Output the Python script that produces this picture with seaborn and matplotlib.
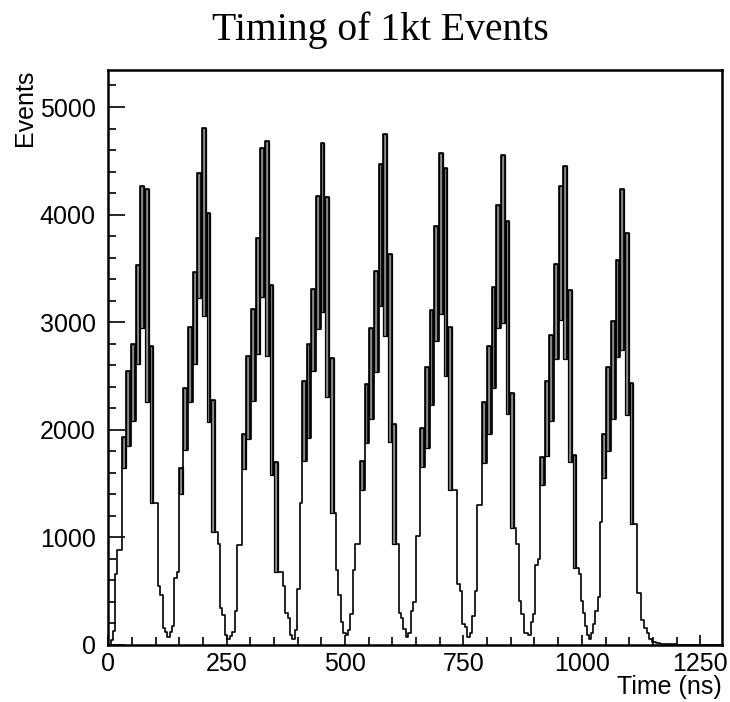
import numpy as np
import pandas as pd
import matplotlib
matplotlib.use("Agg")
import matplotlib.pyplot as plt
from matplotlib.ticker import MultipleLocator
import seaborn as sns

# ---------------- data ----------------
title = "Timing of 1kt Events"
x_label = "Time (ns)"
y_label = "Events"
x_ticks = [0, 250, 500, 750, 1000, 1250]
y_ticks = [0, 1000, 2000, 3000, 4000, 5000]

# start time (ns) of the first bucket of every bunch
bunch_start = [28.5, 149, 282, 409, 531.5, 659, 790, 912, 1042]
bucket_pitch = 9.8   # ns
bucket_width = 8.0   # ns

# upper / lower count of every bucket within each bunch
bar_top = [
    [1932, 2544, 2801, 3530, 4263, 4242, 2783],
    [1648, 2391, 2954, 3470, 4384, 4804, 4014, 2278],
    [1957, 2687, 3121, 3779, 4616, 4687, 3345, 1698],
    [2456, 2801, 3310, 4171, 4662, 4164, 2669],
    [1708, 2427, 2943, 3477, 4466, 4751, 3637, 2053],
    [2018, 2580, 3114, 3890, 4573, 4431, 2954],
    [2260, 2776, 3327, 4093, 4555, 3940, 2338],
    [1744, 2456, 2883, 3541, 4270, 4448, 3299, 1762],
    [1957, 2580, 3014, 3577, 4235, 3826, 2438],
]
bar_bottom = [
    [1648, 1851, 2082, 2616, 2947, 2260, 1317],
    [1406, 1815, 2260, 2616, 3221, 3060, 2071, 1050],
    [1637, 1915, 2267, 2705, 3238, 2687, 1584, 676],
    [1708, 1922, 2544, 2936, 3096, 2302, 1228],
    [1441, 1875, 2100, 2537, 3149, 2872, 1886, 936],
    [1655, 1833, 2235, 2829, 3078, 2502, 1441],
    [1690, 1957, 2384, 2943, 2990, 2146, 1085],
    [1484, 1754, 2082, 2658, 3025, 2658, 1698, 712],
    [1555, 1804, 2100, 2680, 2740, 2135, 1121],
]

# counts before the first bunch
lead_in = [0, 50, 130, 660, 880, 880]
# counts in the gaps between bunches
valleys = [
    [1317, 1317, 552, 463, 160, 125, 71, 125, 178, 623, 683],
    [1050, 940, 340, 280, 90, 60, 80, 125, 320, 930, 930],
    [676, 676, 552, 302, 249, 89, 53, 142, 516, 1317],
    [1228, 694, 463, 214, 107, 89, 140, 285, 694, 940, 940],
    [936, 302, 249, 150, 71, 107, 320, 402, 1014, 1014],
    [1441, 1441, 569, 498, 196, 167, 71, 107, 267, 498, 1299, 1299],
    [1085, 943, 409, 285, 107, 107, 89, 214, 285, 747, 800],
    [712, 658, 409, 302, 178, 89, 60, 107, 196, 320, 445, 1139],
]
# tail after the last bunch
tail_edges = [1116, 1126, 1131, 1137, 1142, 1148, 1156, 1165, 1180, 1200, 1230, 1300]
tail_values = [1121, 480, 231, 160, 107, 53, 30, 18, 10, 5, 2, 0]

# ---------------- build segments (x0, x1, top, bottom) ----------------
segs = []
def add_steps(x0, x1, vals):
    n = len(vals)
    e = np.linspace(x0, x1, n + 1)
    for i, v in enumerate(vals):
        segs.append((e[i], e[i + 1], v, v))

add_steps(0, bunch_start[0], lead_in)
bars = []
for k, t0 in enumerate(bunch_start):
    for j, (hi, lo) in enumerate(zip(bar_top[k], bar_bottom[k])):
        a = t0 + j * bucket_pitch
        segs.append((a, a + bucket_width, hi, lo))
        bars.append((a, hi, lo))
    end = t0 + (len(bar_top[k]) - 1) * bucket_pitch + bucket_width
    if k < len(valleys):
        add_steps(end, bunch_start[k + 1], valleys[k])
    else:
        prev = end
        for e, v in zip(tail_edges, tail_values):
            segs.append((prev, e, v, v))
            prev = e

xs, ys = [0.0], [0.0]
level = 0.0
for x0, x1, hi, lo in segs:
    xs += [x0, x0, x1, x1]
    ys += [level, hi, hi, lo]
    level = lo
outline = pd.DataFrame({"time": xs, "events": ys})
bars_df = pd.DataFrame(bars, columns=["start", "top", "bottom"])

# ---------------- plot ----------------
sns.set_style("ticks")
plt.rcParams["font.family"] = ["Liberation Sans", "DejaVu Sans"]
plt.rcParams["text.color"] = "black"
plt.rcParams["xtick.color"] = "black"
plt.rcParams["ytick.color"] = "black"

fig = plt.figure(figsize=(7.30, 7.02), dpi=100)
ax = fig.add_axes([108.3 / 730, 57 / 702, (722 - 108.3) / 730, (645 - 70) / 702])

ax.bar(bars_df["start"], bars_df["top"] - bars_df["bottom"], bottom=bars_df["bottom"],
       width=bucket_width, align="edge", color="#8a8a8a", edgecolor="black",
       linewidth=0.9, zorder=2)
sns.lineplot(data=outline, x="time", y="events", sort=False, estimator=None,
             color="black", linewidth=1.2, ax=ax, zorder=3)

ax.set_xlim(0, 1296)
ax.set_ylim(0, 5344)
ax.set_xticks(x_ticks)
ax.set_yticks(y_ticks)
ax.xaxis.set_minor_locator(MultipleLocator(50))
ax.yaxis.set_minor_locator(MultipleLocator(200))
ax.tick_params(axis="y", which="major", direction="in", length=12, width=1.2,
               labelsize=18, pad=9)
ax.tick_params(axis="y", which="minor", direction="in", length=6, width=1.2)
ax.tick_params(axis="x", which="major", direction="in", length=7, width=1.2,
               labelsize=18, pad=5)
ax.tick_params(axis="x", which="minor", direction="in", length=6, width=1.2)
ax.set_xlabel("")
ax.set_ylabel("")
for s in ax.spines.values():
    s.set_linewidth(1.8)
    s.set_color("black")
    s.set_visible(True)

fig.text(212 / 730, 1 - 30 / 702, title, ha="left", va="center", color="black",
         fontfamily=["Liberation Serif", "DejaVu Serif"], fontsize=28.5)
fig.text(25 / 730, 1 - 70 / 702, y_label, rotation=90, ha="center", va="top", fontsize=18)
fig.text(722 / 730, 1 - 687 / 702, x_label, ha="right", va="center", fontsize=18)

fig.savefig("out.png", dpi=100)
